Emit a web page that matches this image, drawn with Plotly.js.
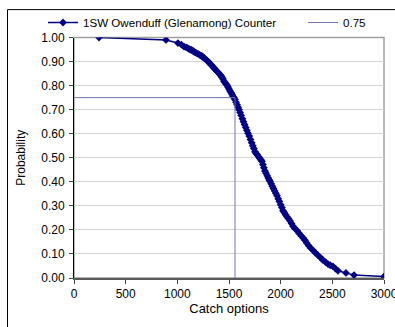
<!DOCTYPE html>
<html>
<head>
<meta charset="utf-8">
<script src="https://cdn.plot.ly/plotly-3.0.1.min.js"></script>
<style>
html,body{margin:0;padding:0;background:#fff;}
#chart{width:395px;height:327px;}
</style>
</head>
<body>
<div id="chart"></div>
<script>
// Catch options (x) and probability (y)
var catchOptions = [242, 890, 1006, 1040, 1065, 1085, 1100, 1112, 1123, 1137, 1150, 1160, 1171, 1185, 1200, 1215, 1228, 1239, 1250, 1260, 1272, 1285, 1297, 1310, 1320, 1330, 1342, 1353, 1365, 1378, 1390, 1400, 1412, 1422, 1432, 1442, 1452, 1462, 1471, 1481, 1490, 1500, 1510, 1520, 1530, 1539, 1548, 1558, 1568, 1578, 1588, 1597, 1608, 1618, 1630, 1640, 1651, 1662, 1673, 1684, 1696, 1708, 1720, 1730, 1741, 1752, 1763, 1774, 1785, 1797, 1808, 1819, 1828, 1838, 1848, 1858, 1870, 1880, 1890, 1897, 1908, 1919, 1930, 1942, 1953, 1965, 1976, 1988, 2000, 2012, 2023, 2035, 2048, 2060, 2075, 2090, 2105, 2120, 2138, 2158, 2178, 2200, 2218, 2235, 2252, 2270, 2290, 2313, 2335, 2360, 2385, 2410, 2435, 2458, 2480, 2506, 2530, 2555, 2632, 2710, 3000];
var probability = [1.000, 0.990, 0.977, 0.970, 0.962, 0.959, 0.956, 0.953, 0.950, 0.948, 0.945, 0.941, 0.938, 0.935, 0.932, 0.928, 0.925, 0.922, 0.918, 0.915, 0.910, 0.905, 0.900, 0.895, 0.890, 0.885, 0.879, 0.874, 0.868, 0.862, 0.857, 0.852, 0.846, 0.841, 0.835, 0.827, 0.818, 0.812, 0.807, 0.802, 0.794, 0.786, 0.778, 0.771, 0.763, 0.755, 0.750, 0.742, 0.731, 0.720, 0.710, 0.700, 0.688, 0.676, 0.662, 0.650, 0.638, 0.626, 0.614, 0.602, 0.590, 0.576, 0.562, 0.550, 0.538, 0.525, 0.518, 0.512, 0.505, 0.498, 0.492, 0.485, 0.472, 0.458, 0.445, 0.436, 0.425, 0.416, 0.408, 0.402, 0.392, 0.382, 0.372, 0.362, 0.352, 0.342, 0.330, 0.318, 0.305, 0.293, 0.280, 0.272, 0.263, 0.255, 0.247, 0.238, 0.227, 0.215, 0.206, 0.197, 0.186, 0.175, 0.166, 0.157, 0.146, 0.135, 0.125, 0.115, 0.105, 0.095, 0.085, 0.074, 0.066, 0.058, 0.053, 0.048, 0.039, 0.030, 0.021, 0.012, 0.006];

var threshold = 0.75;
var thresholdCatch = 1558;

var seriesName = "1SW Owenduff (Glenamong) Counter";
var thresholdName = "0.75";
var yTicks = [0, 0.1, 0.2, 0.3, 0.4, 0.5, 0.6, 0.7, 0.8, 0.9, 1.0];
var xTicks = [0, 500, 1000, 1500, 2000, 2500, 3000];

var font = "Liberation Sans, Arial, sans-serif";

var traces = [
  {
    x: catchOptions, y: probability, name: seriesName,
    type: "scatter", mode: "lines+markers",
    line: {color: "#000080", width: 1.5},
    marker: {symbol: "diamond", size: 6, color: "#000080"},
    legend: "legend"
  },
  {
    x: [0, thresholdCatch, thresholdCatch], y: [threshold, threshold, 0],
    name: thresholdName, type: "scatter", mode: "lines",
    line: {color: "#7474b0", width: 1},
    legend: "legend2"
  }
];

var legendCommon = {
  orientation: "h", xref: "container", yref: "container",
  xanchor: "left", yanchor: "top", y: 0.9755,
  font: {family: font, size: 11.6, color: "#000"},
  bgcolor: "rgba(0,0,0,0)", borderwidth: 0, itemwidth: 30
};

var layout = {
  width: 395, height: 327,
  margin: {l: 74, r: 11, t: 35.5, b: 49, pad: 0},
  paper_bgcolor: "#ffffff", plot_bgcolor: "#ffffff",
  font: {family: font, size: 12, color: "#000"},
  showlegend: true,
  legend: Object.assign({}, legendCommon, {x: 43 / 395}),
  legend2: Object.assign({}, legendCommon, {x: 303 / 395}),
  xaxis: {
    range: [0, 3000], tickvals: xTicks, ticktext: xTicks.map(String),
    ticks: "outside", ticklen: 4, tickcolor: "#444", tickwidth: 1,
    showline: true, linecolor: "#5a5a5a", linewidth: 2,
    showgrid: false, zeroline: false, ticklabeloverflow: "allow",
    tickfont: {family: font, size: 12},
    title: {text: "Catch options", font: {family: font, size: 13}, standoff: 3}
  },
  yaxis: {
    range: [0, 1], tickvals: yTicks, ticktext: yTicks.map(function(v){return v.toFixed(2);}),
    ticks: "outside", ticklen: 4, tickcolor: "#444", tickwidth: 1,
    showline: true, linecolor: "#000", linewidth: 1,
    showgrid: true, gridcolor: "#d4d4d4", gridwidth: 1,
    zeroline: false, ticklabelstandoff: 2,
    tickfont: {family: font, size: 12},
    title: {text: "Probability", font: {family: font, size: 12}, standoff: 13}
  },
  shapes: [
    {type: "rect", xref: "paper", yref: "paper", x0: 0, x1: 1, y0: 0, y1: 1,
     line: {color: "#a0a0a0", width: 1.5}, fillcolor: "rgba(0,0,0,0)", layer: "below"},
    {type: "rect", xref: "paper", yref: "paper", x0: -0.2145, x1: 1.2, y0: -0.3, y1: 1.116,
     line: {color: "#000", width: 1}, fillcolor: "rgba(0,0,0,0)", layer: "above"}
  ]
};

Plotly.newPlot("chart", traces, layout, {staticPlot: true, displayModeBar: false});
</script>
</body>
</html>
